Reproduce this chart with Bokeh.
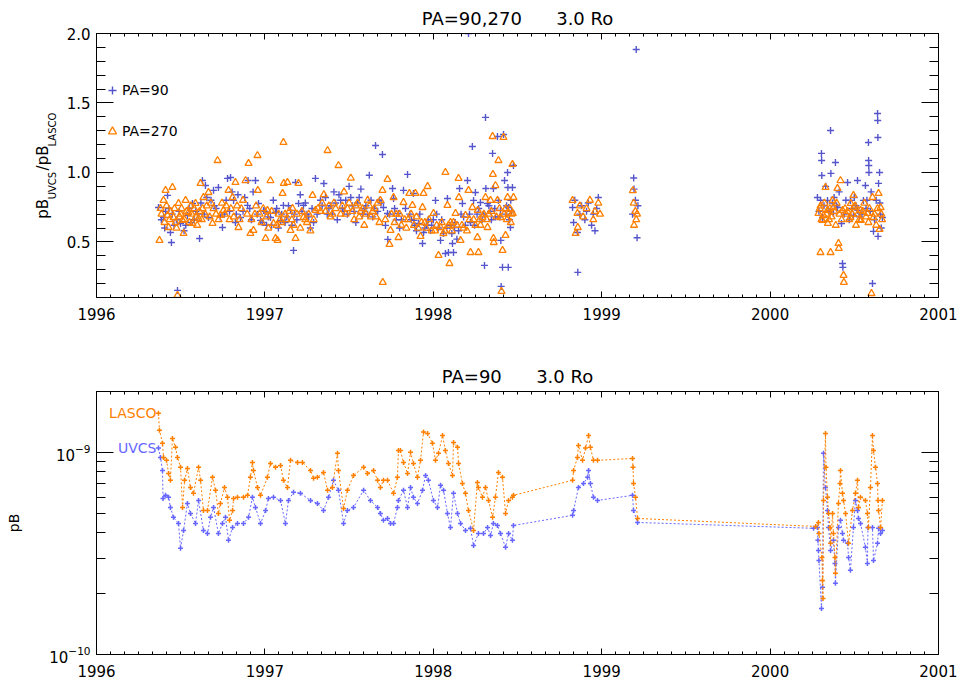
import math
from bokeh.plotting import figure
from bokeh.models import (LinearAxis, LogAxis, SingleIntervalTicker, FixedTicker,
                          PrintfTickFormatter, Label, Legend, LegendItem, Range1d)
from bokeh.layouts import column
from bokeh.embed import file_html
from bokeh.resources import INLINE

FONT = "DejaVu Sans"
BLUE_TOP = "#5555cc"
BLUE_BOT = "#6666ff"
ORANGE = "#ff8000"
NB = "\u00a0"

title_top = "PA=90,270" + NB * 5 + " 3.0 Ro"
title_bot = "PA=90" + NB * 5 + " 3.0 Ro"
# y-axis title of the top panel, pB_UVCS/pB_LASCO: main text line and subscript line
ylabel_main = "pB" + NB * 6 + "/pB" + NB * 7
ylabel_sub = NB * 6 + "UVCS" + NB * 8 + "LASCO"
ylabel_bot = "pB"
year_ticks_start, year_ticks_end = 1996, 2001

# ---------------- top panel: pB_UVCS / pB_LASCO ----------------
pa90_year = [
    1996.368, 1996.398, 1996.410, 1996.422, 1996.439, 1996.445, 1996.460, 1996.481, 1996.499, 1996.520,
    1996.540, 1996.560, 1996.570, 1996.600, 1996.612, 1996.629, 1996.647, 1996.665, 1996.680, 1996.695,
    1996.710, 1996.724, 1996.748, 1996.760, 1996.778, 1996.796, 1996.814, 1996.825, 1996.840, 1996.855,
    1996.870, 1996.897, 1996.900, 1996.920, 1996.944, 1996.962, 1996.974, 1996.992, 1997.010, 1997.033,
    1997.050, 1997.063, 1997.080, 1997.093, 1997.110, 1997.130, 1997.152, 1997.160, 1997.170, 1997.182,
    1997.200, 1997.210, 1997.229, 1997.250, 1997.270, 1997.289, 1997.300, 1997.330, 1997.350, 1997.370,
    1997.390, 1997.410, 1997.430, 1997.450, 1997.470, 1997.500, 1997.520, 1997.540, 1997.560, 1997.580,
    1997.600, 1997.620, 1997.640, 1997.657, 1997.680, 1997.698, 1997.704, 1997.716, 1997.728, 1997.730,
    1997.758, 1997.764, 1997.780, 1997.793, 1997.800, 1997.823, 1997.847, 1997.860, 1997.882, 1997.885,
    1997.900, 1997.912, 1997.936, 1997.942, 1997.960, 1997.983, 1998.000, 1998.013, 1998.030, 1998.043,
    1998.060, 1998.072, 1998.084, 1998.090, 1998.100, 1998.114, 1998.120, 1998.126, 1998.140, 1998.156,
    1998.173, 1998.180, 1998.203, 1998.209, 1998.220, 1998.232, 1998.239, 1998.250, 1998.260, 1998.280,
    1998.290, 1998.304, 1998.310, 1998.312, 1998.322, 1998.340, 1998.352, 1998.357, 1998.370, 1998.381,
    1998.387, 1998.399, 1998.401, 1998.403, 1998.411, 1998.417, 1998.423, 1998.430, 1998.441, 1998.443,
    1998.445, 1998.447, 1998.458, 1998.460, 1998.470, 1998.476,
    1996.385, 1996.405, 1996.430, 1996.450, 1996.475, 1996.490, 1996.530, 1996.550, 1996.580, 1996.590,
    1996.620, 1996.640, 1996.655, 1996.700, 1996.735, 1996.770, 1996.790, 1996.805, 1996.830, 1996.880,
    1996.910, 1996.930, 1996.955, 1996.985, 1997.000, 1997.020, 1997.040, 1997.070, 1997.100, 1997.120,
    1997.140, 1997.175, 1997.190, 1997.220, 1997.240, 1997.260, 1997.280, 1997.310, 1997.340, 1997.360,
    1997.380, 1997.400, 1997.420, 1997.440, 1997.460, 1997.480, 1997.490, 1997.510, 1997.530, 1997.550,
    1997.570, 1997.590, 1997.610, 1997.630, 1997.650, 1997.670, 1997.690, 1997.740, 1997.770, 1997.810,
    1997.835, 1997.870, 1997.890, 1997.920, 1997.950, 1997.970, 1997.990, 1998.020, 1998.050, 1998.080,
    1998.110, 1998.130, 1998.150, 1998.165, 1998.190, 1998.215, 1998.245, 1998.270, 1998.300, 1998.330,
    1998.345, 1998.365, 1998.395, 1998.435, 1998.452, 1998.465,
    1998.827, 1998.833, 1998.840, 1998.856, 1998.858, 1998.870, 1998.880, 1998.900, 1998.910, 1998.920,
    1998.940, 1998.950, 1998.960, 1998.970, 1998.980,
    1999.183, 1999.190, 1999.192, 1999.200, 1999.205, 1999.210, 1999.215,
    2000.281, 2000.290, 2000.305, 2000.306, 2000.307, 2000.311, 2000.330, 2000.341, 2000.359, 2000.361,
    2000.370, 2000.376, 2000.388, 2000.400, 2000.410, 2000.424, 2000.430, 2000.432, 2000.440, 2000.460,
    2000.470, 2000.477, 2000.495, 2000.500, 2000.519, 2000.521, 2000.530, 2000.554, 2000.566, 2000.570,
    2000.584, 2000.585, 2000.586, 2000.587, 2000.600, 2000.608, 2000.614, 2000.620, 2000.638, 2000.639,
    2000.640, 2000.641, 2000.644, 2000.650, 2000.652, 2000.660, 2000.667,
    2000.300, 2000.320, 2000.350, 2000.380, 2000.395, 2000.450, 2000.485, 2000.510, 2000.545, 2000.575,
    2000.595, 2000.630, 2000.655,
]
pa90_ratio = [
    0.748, 0.676, 0.720, 0.835, 0.568, 0.496, 0.620, 0.151, 0.633, 0.580,
    0.691, 0.640, 0.777, 0.700, 0.525, 0.942, 0.906, 0.676, 0.800, 0.871,
    0.740, 0.892, 0.604, 0.700, 0.957, 0.964, 0.799, 0.640, 0.840, 0.676,
    0.720, 0.763, 0.942, 0.660, 0.942, 0.777, 0.655, 0.727, 0.620, 0.676,
    0.800, 0.712, 0.600, 0.655, 0.763, 0.680, 0.727, 0.620, 0.439, 0.928,
    0.777, 0.840, 0.763, 0.700, 0.600, 0.640, 0.957, 0.800, 0.920, 0.700,
    0.760, 0.860, 0.660, 0.800, 0.720, 0.900, 0.760, 0.640, 0.820, 0.700,
    0.760, 0.980, 0.680, 1.194, 0.800, 1.129, 0.748, 0.619, 0.705, 0.518,
    0.885, 0.813, 0.660, 0.705, 0.600, 0.871, 0.986, 0.700, 0.849, 0.655,
    0.580, 0.633, 0.489, 0.568, 0.620, 0.583, 0.660, 0.799, 0.600, 0.511,
    0.560, 0.417, 0.813, 0.424, 0.620, 0.489, 0.424, 0.604, 0.520, 0.885,
    0.777, 0.680, 0.942, 2.000, 0.640, 1.187, 0.799, 0.856, 0.700, 0.784,
    0.660, 0.331, 1.396, 0.885, 0.777, 0.720, 1.137, 0.885, 0.680, 1.259,
    0.799, 0.727, 0.511, 0.180, 0.317, 1.273, 0.942, 0.700, 1.000, 0.892,
    0.317, 0.748, 0.604, 0.800, 0.892, 1.050,
    0.66, 0.60, 0.74, 0.70, 0.66, 0.72, 0.62, 0.74, 0.66, 0.72,
    0.78, 0.70, 0.82, 0.76, 0.68, 0.80, 0.72, 0.86, 0.70, 0.82,
    0.74, 0.86, 0.70, 0.64, 0.72, 0.68, 0.62, 0.74, 0.70, 0.64,
    0.76, 0.70, 0.66, 0.72, 0.78, 0.68, 0.74, 0.70, 0.76, 0.82,
    0.74, 0.70, 0.78, 0.84, 0.74, 0.80, 0.70, 0.82, 0.72, 0.78,
    0.88, 0.74, 0.70, 0.80, 0.74, 0.72, 0.78, 0.70, 0.74, 0.66,
    0.74, 0.66, 0.62, 0.70, 0.60, 0.66, 0.62, 0.70, 0.66, 0.60,
    0.56, 0.64, 0.58, 0.70, 0.62, 0.70, 0.62, 0.74, 0.70, 0.76,
    0.66, 0.74, 0.68, 0.76, 0.66, 0.72,
    0.748, 0.640, 0.800, 0.568, 0.281, 0.700, 0.760, 0.660, 0.720, 0.780,
    0.620, 0.700, 0.580, 0.740, 0.820,
    0.700, 0.960, 0.880, 0.800, 1.885, 0.530, 0.760,
    0.820, 0.720, 1.137, 1.086, 0.978, 0.676, 0.900, 0.799, 1.302, 0.993,
    0.780, 0.705, 1.072, 0.748, 0.860, 0.633, 0.345, 0.317, 0.700, 0.928,
    0.660, 0.799, 0.691, 0.820, 0.942, 0.727, 0.680, 0.799, 0.906, 0.740,
    1.216, 1.086, 1.050, 1.000, 0.860, 0.201, 0.576, 0.660, 1.424, 1.374,
    1.252, 0.540, 0.921, 1.000, 0.780, 0.600, 0.676,
    0.80, 0.76, 0.72, 0.82, 0.76, 0.80, 0.74, 0.76, 0.70, 0.80,
    0.72, 0.80, 0.70,
]

pa270_year = [
    1996.374, 1996.380, 1996.398, 1996.410, 1996.422, 1996.428, 1996.440, 1996.451, 1996.457, 1996.470,
    1996.481, 1996.487, 1996.500, 1996.511, 1996.517, 1996.529, 1996.546, 1996.560, 1996.570, 1996.588,
    1996.590, 1996.606, 1996.618, 1996.630, 1996.635, 1996.665, 1996.680, 1996.689, 1996.710, 1996.719,
    1996.736, 1996.754, 1996.770, 1996.784, 1996.790, 1996.808, 1996.825, 1996.843, 1996.860, 1996.885,
    1996.903, 1996.914, 1996.932, 1996.940, 1996.956, 1996.958, 1996.980, 1997.004, 1997.015, 1997.020,
    1997.033, 1997.051, 1997.063, 1997.075, 1997.090, 1997.105, 1997.110, 1997.112, 1997.120, 1997.134,
    1997.152, 1997.164, 1997.170, 1997.182, 1997.200, 1997.210, 1997.229, 1997.250, 1997.270, 1997.283,
    1997.300, 1997.330, 1997.350, 1997.372, 1997.390, 1997.410, 1997.437, 1997.450, 1997.470, 1997.490,
    1997.510, 1997.530, 1997.550, 1997.570, 1997.590, 1997.610, 1997.630, 1997.650, 1997.680, 1997.686,
    1997.698, 1997.700, 1997.728, 1997.740, 1997.746, 1997.764, 1997.780, 1997.793, 1997.810, 1997.823,
    1997.850, 1997.858, 1997.876, 1997.894, 1997.910, 1997.924, 1997.936, 1997.942, 1997.950, 1997.966,
    1997.990, 1998.001, 1998.020, 1998.031, 1998.043, 1998.060, 1998.072, 1998.084, 1998.096, 1998.102,
    1998.110, 1998.132, 1998.140, 1998.150, 1998.152, 1998.162, 1998.180, 1998.191, 1998.209, 1998.221,
    1998.232, 1998.240, 1998.262, 1998.264, 1998.268, 1998.280, 1998.292, 1998.310, 1998.322, 1998.330,
    1998.340, 1998.352, 1998.354, 1998.357, 1998.359, 1998.369, 1998.381, 1998.387, 1998.399, 1998.405,
    1998.411, 1998.417, 1998.429, 1998.430, 1998.441, 1998.447, 1998.460, 1998.470, 1998.472, 1998.476,
    1996.386, 1996.404, 1996.416, 1996.434, 1996.463, 1996.475, 1996.494, 1996.505, 1996.523, 1996.535,
    1996.552, 1996.565, 1996.580, 1996.598, 1996.612, 1996.625, 1996.645, 1996.655, 1996.672, 1996.695,
    1996.725, 1996.745, 1996.762, 1996.798, 1996.815, 1996.835, 1996.850, 1996.870, 1996.895, 1996.920,
    1996.948, 1996.968, 1996.990, 1997.010, 1997.040, 1997.070, 1997.082, 1997.098, 1997.128, 1997.145,
    1997.160, 1997.190, 1997.220, 1997.240, 1997.260, 1997.290, 1997.315, 1997.340, 1997.360, 1997.380,
    1997.400, 1997.420, 1997.460, 1997.480, 1997.500, 1997.520, 1997.540, 1997.560, 1997.580, 1997.600,
    1997.620, 1997.640, 1997.660, 1997.670, 1997.715, 1997.752, 1997.770, 1997.800, 1997.830, 1997.840,
    1997.868, 1997.885, 1997.900, 1997.930, 1997.958, 1997.975, 1998.010, 1998.050, 1998.068, 1998.090,
    1998.120, 1998.170, 1998.200, 1998.215, 1998.250, 1998.275, 1998.300, 1998.318, 1998.345, 1998.375,
    1998.393, 1998.420, 1998.437, 1998.455, 1998.465,
    1998.827, 1998.845, 1998.856, 1998.858, 1998.870, 1998.890, 1998.910, 1998.930, 1998.950, 1998.960,
    1998.980, 1998.990,
    1999.185, 1999.190, 1999.192, 1999.200, 1999.205, 1999.210,
    2000.287, 2000.299, 2000.300, 2000.311, 2000.317, 2000.329, 2000.341, 2000.343, 2000.350, 2000.359,
    2000.371, 2000.376, 2000.390, 2000.400, 2000.406, 2000.408, 2000.418, 2000.430, 2000.436, 2000.438,
    2000.450, 2000.477, 2000.479, 2000.495, 2000.497, 2000.510, 2000.537, 2000.539, 2000.560, 2000.578,
    2000.584, 2000.602, 2000.608, 2000.614, 2000.630, 2000.644, 2000.650, 2000.656, 2000.660,
    2000.295, 2000.305, 2000.323, 2000.335, 2000.355, 2000.365, 2000.382, 2000.395, 2000.412, 2000.425,
    2000.445, 2000.460, 2000.470, 2000.488, 2000.505, 2000.520, 2000.530, 2000.550, 2000.570, 2000.590,
    2000.620, 2000.638, 2000.665,
]
pa270_ratio = [
    0.511, 0.741, 0.799, 0.871, 0.691, 0.604, 0.720, 0.892, 0.676, 0.640,
    0.115, 0.777, 0.700, 0.655, 0.561, 0.799, 0.712, 0.760, 0.633, 0.777,
    0.680, 0.669, 0.921, 0.740, 0.820, 0.856, 0.780, 0.633, 0.700, 1.086,
    0.691, 0.727, 0.760, 0.871, 0.660, 0.820, 0.928, 0.604, 0.740, 0.942,
    1.065, 0.561, 0.583, 0.700, 1.122, 0.871, 0.640, 0.525, 0.727, 0.600,
    0.942, 0.633, 0.525, 0.511, 0.660, 0.849, 1.216, 0.921, 0.700, 0.928,
    0.583, 0.741, 0.620, 0.525, 0.921, 0.600, 0.676, 0.640, 0.580, 0.835,
    0.727, 0.720, 0.840, 1.158, 0.680, 0.780, 1.050, 0.700, 0.860, 0.740,
    0.960, 0.660, 0.780, 0.720, 0.620, 0.800, 0.680, 0.740, 0.640, 0.799,
    0.871, 0.209, 0.950, 0.482, 0.583, 0.820, 0.700, 0.532, 0.620, 0.784,
    0.660, 0.849, 0.763, 0.849, 0.600, 0.540, 0.748, 0.849, 0.640, 0.899,
    0.580, 0.705, 0.620, 0.403, 0.604, 0.560, 1.000, 0.763, 0.345, 0.640,
    0.580, 0.705, 0.620, 0.957, 0.820, 0.511, 0.600, 0.691, 0.871, 0.424,
    0.748, 0.660, 0.532, 0.727, 0.424, 0.620, 0.676, 0.820, 0.604, 0.700,
    0.799, 1.259, 0.986, 0.525, 0.496, 0.906, 0.799, 1.086, 0.676, 0.144,
    0.439, 1.252, 0.547, 0.740, 0.820, 0.705, 0.640, 1.058, 0.705, 0.820,
    0.70, 0.64, 0.76, 0.66, 0.74, 0.60, 0.68, 0.74, 0.66, 0.72,
    0.64, 0.70, 0.74, 0.62, 0.72, 0.66, 0.70, 0.76, 0.68, 0.74,
    0.66, 0.78, 0.70, 0.74, 0.68, 0.76, 0.66, 0.80, 0.70, 0.66,
    0.76, 0.70, 0.74, 0.68, 0.72, 0.62, 0.70, 0.64, 0.66, 0.72,
    0.66, 0.70, 0.72, 0.66, 0.70, 0.66, 0.74, 0.78, 0.72, 0.76,
    0.70, 0.74, 0.76, 0.70, 0.78, 0.72, 0.76, 0.68, 0.74, 0.70,
    0.76, 0.72, 0.68, 0.78, 0.66, 0.70, 0.64, 0.70, 0.66, 0.60,
    0.70, 0.62, 0.68, 0.64, 0.60, 0.66, 0.58, 0.64, 0.58, 0.62,
    0.64, 0.62, 0.58, 0.66, 0.62, 0.66, 0.70, 0.66, 0.72, 0.68,
    0.74, 0.70, 0.66, 0.74, 0.70,
    0.799, 0.561, 0.705, 0.604, 0.760, 0.680, 0.740, 0.800, 0.660, 0.720,
    0.780, 0.700,
    0.870, 0.780, 0.620, 0.720, 0.660, 0.700,
    0.705, 0.424, 0.760, 0.655, 0.691, 0.892, 0.727, 0.633, 0.660, 0.424,
    0.799, 0.748, 0.620, 0.885, 0.489, 0.453, 0.942, 0.727, 0.259, 0.209,
    0.700, 0.676, 0.777, 0.835, 0.748, 0.620, 0.727, 0.655, 0.780, 0.705,
    0.640, 0.129, 0.820, 0.676, 0.620, 0.849, 0.590, 0.748, 0.700,
    0.74, 0.66, 0.78, 0.70, 0.74, 0.68, 0.72, 0.78, 0.70, 0.66,
    0.74, 0.72, 0.66, 0.70, 0.76, 0.70, 0.66, 0.72, 0.68, 0.74,
    0.70, 0.74, 0.66,
]

# ---------------- bottom panel: pB at PA=90 (units of 1e-10) ----------------
lasco_year = [
    1996.368, 1996.374, 1996.392, 1996.398, 1996.416, 1996.428, 1996.439, 1996.451, 1996.469, 1996.481,
    1996.499, 1996.511, 1996.523, 1996.540, 1996.558, 1996.576, 1996.606, 1996.618, 1996.635, 1996.659,
    1996.689, 1996.707, 1996.724, 1996.736, 1996.760, 1996.778, 1996.790, 1996.808, 1996.814, 1996.837,
    1996.873, 1996.897, 1996.914, 1996.926, 1996.932, 1996.956, 1996.974, 1997.015, 1997.033, 1997.063,
    1997.093, 1997.110, 1997.134, 1997.152, 1997.194, 1997.223, 1997.271, 1997.289, 1997.312, 1997.348,
    1997.372, 1997.401, 1997.431, 1997.437, 1997.467, 1997.490, 1997.526, 1997.586, 1997.609, 1997.645,
    1997.669, 1997.686, 1997.704, 1997.728, 1997.764, 1997.787, 1997.793, 1997.805, 1997.823, 1997.847,
    1997.865, 1997.882, 1997.906, 1997.924, 1997.942, 1997.966, 1997.995, 1998.013, 1998.031, 1998.055,
    1998.072, 1998.090, 1998.114, 1998.120, 1998.144, 1998.150, 1998.173, 1998.191, 1998.209, 1998.239,
    1998.262, 1998.268, 1998.292, 1998.310, 1998.328, 1998.352, 1998.369, 1998.387, 1998.411, 1998.429,
    1998.447, 1998.470, 1998.476,
    1998.827, 1998.833, 1998.856, 1998.862, 1998.886, 1998.904, 1998.922, 1998.933, 1998.951, 1998.975,
    1999.183, 1999.186, 1999.189, 1999.201, 1999.213,
    2000.270, 2000.287, 2000.290, 2000.308, 2000.311, 2000.314, 2000.317, 2000.329, 2000.332, 2000.341,
    2000.347, 2000.356, 2000.359, 2000.371, 2000.376, 2000.385, 2000.388, 2000.406, 2000.415, 2000.418,
    2000.430, 2000.436, 2000.448, 2000.466, 2000.489, 2000.507, 2000.519, 2000.525, 2000.537, 2000.566,
    2000.578, 2000.584, 2000.596, 2000.608, 2000.614, 2000.626, 2000.638, 2000.641, 2000.644, 2000.656,
    2000.667,
]
lasco_pb_e10 = [
    15.6, 12.85, 11.1, 9.44, 9.13, 7.87, 7.27, 11.7, 10.6, 9.44,
    8.43, 5.34, 7.27, 8.33, 6.71, 6.27, 8.43, 7.27, 5.16, 5.16,
    7.52, 6.49, 4.99, 5.59, 6.71, 5.99, 4.61, 5.16, 5.92, 5.99,
    5.99, 6.13, 7.52, 8.92, 8.14, 6.71, 6.13, 7.52, 8.82, 8.43,
    8.62, 7.27, 6.71, 9.13, 8.92, 8.92, 8.14, 7.44, 7.52, 7.96,
    6.49, 6.71, 9.89, 8.14, 5.28, 6.49, 7.69, 8.43, 7.87, 8.14,
    7.27, 6.71, 7.27, 7.27, 6.27, 7.52, 10.2, 10.2, 8.92, 7.87,
    10.0, 8.82, 7.52, 9.13, 12.6, 12.4, 11.1, 9.13, 9.89, 12.1,
    10.2, 8.82, 7.69, 11.2, 10.6, 8.82, 7.02, 6.27, 5.16, 4.11,
    7.10, 6.71, 5.99, 6.71, 5.78, 4.77, 5.99, 7.96, 7.52, 4.99,
    5.78, 5.99, 6.13,
    7.27, 8.14, 9.44, 10.8, 9.13, 10.5, 12.1, 10.6, 9.13, 9.13,
    9.33, 8.43, 7.02, 5.99, 4.71,
    4.30, 4.50, 3.97, 3.02, 2.32, 1.89, 5.78, 12.4, 8.43, 5.99,
    4.99, 4.25, 3.55, 4.99, 3.97, 3.02, 2.52, 5.59, 7.02, 8.14,
    6.27, 5.78, 4.99, 3.55, 5.16, 6.27, 7.27, 5.34, 5.99, 5.78,
    4.99, 4.25, 6.71, 12.1, 10.2, 8.43, 7.02, 5.78, 5.16, 4.25,
    5.78,
]

uvcs_year = [
    1996.368, 1996.380, 1996.392, 1996.395, 1996.410, 1996.428, 1996.439, 1996.457, 1996.487, 1996.499,
    1996.517, 1996.540, 1996.558, 1996.588, 1996.606, 1996.635, 1996.659, 1996.677, 1996.695, 1996.724,
    1996.748, 1996.766, 1996.784, 1996.808, 1996.837, 1996.873, 1996.903, 1996.926, 1996.944, 1996.974,
    1997.004, 1997.021, 1997.051, 1997.093, 1997.122, 1997.140, 1997.170, 1997.211, 1997.271, 1997.312,
    1997.348, 1997.378, 1997.407, 1997.437, 1997.467, 1997.490, 1997.526, 1997.586, 1997.627, 1997.669,
    1997.686, 1997.704, 1997.728, 1997.746, 1997.764, 1997.787, 1997.793, 1997.823, 1997.847, 1997.865,
    1997.882, 1997.906, 1997.936, 1997.954, 1997.971, 1998.001, 1998.025, 1998.043, 1998.061, 1998.084,
    1998.102, 1998.120, 1998.144, 1998.162, 1998.191, 1998.221, 1998.239, 1998.268, 1998.298, 1998.322,
    1998.340, 1998.357, 1998.381, 1998.399, 1998.429, 1998.447, 1998.470, 1998.476,
    1998.827, 1998.833, 1998.862, 1998.892, 1998.916, 1998.922, 1998.933, 1998.951, 1998.975,
    1999.183, 1999.189, 1999.213,
    2000.258, 2000.281, 2000.284, 2000.287, 2000.290, 2000.305, 2000.311, 2000.317, 2000.329, 2000.341,
    2000.347, 2000.359, 2000.376, 2000.385, 2000.388, 2000.406, 2000.418, 2000.430, 2000.436, 2000.460,
    2000.466, 2000.477, 2000.495, 2000.507, 2000.519, 2000.525, 2000.537, 2000.566, 2000.578, 2000.581,
    2000.608, 2000.614, 2000.638, 2000.644, 2000.656, 2000.667,
]
uvcs_pb_e10 = [
    10.5, 9.44, 8.14, 5.92, 6.13, 5.99, 5.34, 4.77, 4.45, 3.35,
    4.11, 5.59, 4.99, 4.45, 5.78, 4.11, 3.97, 4.77, 5.34, 3.97,
    4.45, 4.77, 3.67, 4.25, 4.45, 4.45, 4.77, 5.99, 5.34, 4.45,
    5.16, 5.92, 5.99, 5.78, 4.45, 5.78, 6.34, 6.27, 5.78, 5.59,
    5.16, 5.99, 7.27, 6.49, 4.45, 5.16, 5.34, 6.49, 5.78, 5.34,
    4.99, 4.61, 4.71, 4.45, 4.45, 5.34, 5.78, 6.49, 5.34, 6.71,
    5.99, 5.59, 6.49, 7.69, 7.27, 5.78, 5.34, 6.87, 6.49, 4.99,
    4.25, 6.27, 4.99, 4.45, 4.11, 4.21, 3.46, 3.97, 3.97, 4.25,
    3.88, 4.45, 4.35, 3.97, 3.39, 3.97, 3.67, 4.35,
    4.88, 5.16, 6.71, 7.02, 7.52, 8.14, 7.02, 5.99, 5.78,
    6.13, 5.16, 4.50,
    4.21, 4.25, 3.67, 3.27, 2.92, 1.69, 2.15, 9.89, 6.71, 5.16,
    4.25, 3.27, 3.67, 2.82, 2.25, 4.25, 4.61, 3.97, 3.67, 3.55,
    3.02, 2.61, 4.25, 5.78, 5.16, 4.71, 4.45, 3.39, 2.82, 4.25,
    4.25, 2.92, 3.55, 4.21, 3.97, 4.11,
]


def style_axis(ax, major_in, minor_in, show_labels=True):
    ax.axis_line_color = "black"
    ax.axis_line_width = 1
    ax.major_tick_line_color = "black"
    ax.minor_tick_line_color = "black"
    ax.major_tick_in = major_in
    ax.major_tick_out = 0
    ax.minor_tick_in = minor_in
    ax.minor_tick_out = 0
    ax.major_label_text_font = FONT
    if show_labels:
        ax.major_label_text_font_size = "15px"
        ax.major_label_text_color = "black"
    else:
        ax.major_label_text_font_size = "1px"
        ax.major_label_text_color = None
        ax.major_label_standoff = 0
    ax.axis_label = None


def make_fig(title, y_range, y_log, min_top, min_bottom, frame_h):
    p = figure(frame_width=842, frame_height=frame_h,
               x_range=Range1d(year_ticks_start, year_ticks_end), y_range=y_range,
               y_axis_type="log" if y_log else "linear",
               output_backend="svg", toolbar_location=None,
               min_border_left=96, min_border_right=19,
               min_border_top=min_top, min_border_bottom=min_bottom,
               background_fill_color="white", border_fill_color="white")
    p.outline_line_color = None
    p.xgrid.visible = False
    p.ygrid.visible = False
    p.title.text = title
    p.title.text_font = FONT
    p.title.text_font_size = "18px"
    p.title.text_font_style = "normal"
    p.title.align = "center"
    p.title.text_color = "black"
    return p


xticker = SingleIntervalTicker(interval=1, num_minor_ticks=12)

# ---------- top figure ----------
p1 = make_fig(title_top, Range1d(0.1, 2.0), False, 33, 45, 264)
yt_top = SingleIntervalTicker(interval=0.5, num_minor_ticks=5)
p1.xaxis.ticker = xticker
p1.yaxis.ticker = yt_top
p1.yaxis.formatter = PrintfTickFormatter(format="%.1f")
style_axis(p1.xaxis[0], 6, 3)
style_axis(p1.yaxis[0], 17, 9)
p1.xaxis.major_label_standoff = 10
p1.yaxis.major_label_standoff = 6
# subscript line of the y-axis title sits next to the tick labels
p1.yaxis.axis_label = ylabel_sub
p1.yaxis.axis_label_text_font = FONT
p1.yaxis.axis_label_text_font_size = "10px"
p1.yaxis.axis_label_text_font_style = "normal"
p1.yaxis.axis_label_text_color = "black"
p1.yaxis.axis_label_standoff = 6
# main line of the y-axis title on an extra, otherwise invisible left axis
ax_lab = LinearAxis(ticker=yt_top)
ax_lab.axis_line_color = None
ax_lab.major_tick_line_color = None
ax_lab.minor_tick_line_color = None
ax_lab.major_tick_in = 0
ax_lab.major_tick_out = 0
ax_lab.minor_tick_in = 0
ax_lab.minor_tick_out = 0
ax_lab.major_label_text_font_size = "1px"
ax_lab.major_label_text_color = None
ax_lab.major_label_standoff = 0
ax_lab.axis_label = ylabel_main
ax_lab.axis_label_text_font = FONT
ax_lab.axis_label_text_font_size = "15px"
ax_lab.axis_label_text_font_style = "normal"
ax_lab.axis_label_text_color = "black"
ax_lab.axis_label_standoff = -8
p1.add_layout(ax_lab, "left")

ax_top = LinearAxis(ticker=xticker)
style_axis(ax_top, 6, 3, show_labels=False)
p1.add_layout(ax_top, "above")
ax_right = LinearAxis(ticker=yt_top)
style_axis(ax_right, 17, 9, show_labels=False)
p1.add_layout(ax_right, "right")

r90 = p1.scatter(pa90_year, pa90_ratio, marker="cross", size=7,
                 line_color=BLUE_TOP, line_width=1.4)
r270 = p1.scatter(pa270_year, pa270_ratio, marker="triangle", size=7,
                  fill_color=None, line_color=ORANGE, line_width=1.3)

legend = Legend(items=[LegendItem(label="PA=90", renderers=[r90]),
                       LegendItem(label="PA=270", renderers=[r270])],
                location=(6, 156), orientation="vertical", padding=0, margin=0,
                spacing=21, glyph_width=20, glyph_height=20, label_height=20,
                label_standoff=0, label_text_font=FONT, label_text_font_size="14px",
                label_text_color="black", border_line_color=None,
                background_fill_alpha=0)
p1.add_layout(legend)

# ---------- bottom figure ----------
p2 = make_fig(title_bot, Range1d(1e-10, 2e-9), True, 49, 30, 263)
yt_bot = FixedTicker(ticks=[1e-10, 1e-9],
                     minor_ticks=[2e-10, 3e-10, 4e-10, 5e-10, 6e-10, 7e-10, 8e-10, 9e-10, 2e-9])
p2.xaxis.ticker = xticker
p2.yaxis.ticker = yt_bot
style_axis(p2.xaxis[0], 6, 3)
style_axis(p2.yaxis[0], 17, 9)
p2.xaxis.major_label_standoff = 10
p2.yaxis.major_label_standoff = 6
p2.yaxis.axis_label = ylabel_bot
p2.yaxis.axis_label_text_font = FONT
p2.yaxis.axis_label_text_font_size = "14px"
p2.yaxis.axis_label_text_font_style = "normal"
p2.yaxis.axis_label_text_color = "black"
p2.yaxis.axis_label_standoff = 24
ax_top2 = LinearAxis(ticker=xticker)
style_axis(ax_top2, 6, 3, show_labels=False)
p2.add_layout(ax_top2, "above")
ax_right2 = LogAxis(ticker=yt_bot, formatter=PrintfTickFormatter(format="%.0e"))
style_axis(ax_right2, 17, 9, show_labels=False)
p2.add_layout(ax_right2, "right")

uvcs_pb = [v * 1e-10 for v in uvcs_pb_e10]
lasco_pb = [v * 1e-10 for v in lasco_pb_e10]

p2.line(uvcs_year, uvcs_pb, line_color=BLUE_BOT, line_width=1, line_dash="2 2")
p2.scatter(uvcs_year, uvcs_pb, marker="cross", size=5, line_color=BLUE_BOT, line_width=1.5)
p2.line(lasco_year, lasco_pb, line_color=ORANGE, line_width=1, line_dash="2 2")
p2.scatter(lasco_year, lasco_pb, marker="cross", size=5, line_color=ORANGE, line_width=1.5)

p2.add_layout(Label(x=lasco_year[0], y=lasco_pb[0], x_offset=-2, text="LASCO",
                    text_font=FONT, text_font_size="14px", text_color=ORANGE,
                    text_align="right", text_baseline="middle"))
p2.add_layout(Label(x=uvcs_year[0], y=uvcs_pb[0], x_offset=-2, text="UVCS",
                    text_font=FONT, text_font_size="14px", text_color=BLUE_BOT,
                    text_align="right", text_baseline="middle"))

layout = column(p1, p2, spacing=0)
open("out.html", "w").write(file_html(layout, INLINE))
